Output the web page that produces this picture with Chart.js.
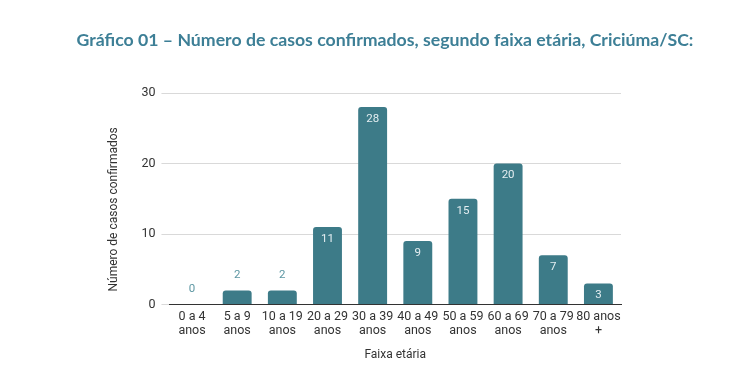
<!DOCTYPE html>
<html><head><meta charset="utf-8">
<script src="https://cdn.jsdelivr.net/npm/chart.js@4/dist/chart.umd.min.js"></script>
<style>html,body{margin:0;padding:0;background:#fff}#wrap{width:729px;height:375px;position:relative}</style>
</head><body><div id="wrap"><canvas id="c" width="729" height="375"></canvas></div>
<script>
const titleText = 'Gráfico 01 – Número de casos confirmados, segundo faixa etária, Criciúma/SC:';
const yTitleText = 'Número de casos confirmados';
const xTitleText = 'Faixa etária';
const categories = [['0 a 4','anos'],['5 a 9','anos'],['10 a 19','anos'],['20 a 29','anos'],['30 a 39','anos'],['40 a 49','anos'],['50 a 59','anos'],['60 a 69','anos'],['70 a 79','anos'],['80 anos','+']];
const casos = [0,2,2,11,28,9,15,20,7,3];
const yTicks = [0,10,20,30];
const barColor = '#3d7b88';

const labelPlugin = {
  id:'vals',
  afterDatasetsDraw(chart){
    const ctx = chart.ctx;
    const meta = chart.getDatasetMeta(0);
    ctx.save();
    ctx.font = '11.5px Roboto';
    ctx.textAlign = 'center';
    ctx.textBaseline = 'middle';
    meta.data.forEach((bar,i)=>{
      const v = casos[i];
      if (v >= 3){ ctx.fillStyle = '#e4eef1'; ctx.fillText(String(v), bar.x, bar.y + 12); }
      else { ctx.fillStyle = '#5d97a3'; ctx.fillText(String(v), bar.x, bar.y - 15); }
    });
    ctx.restore();
  }
};

const titlePlugin = {
  id:'mytitle',
  afterDraw(chart){
    const ctx = chart.ctx;
    ctx.save();
    ctx.font = 'bold 17.7px Lato';
    ctx.fillStyle = '#3d7f96';
    ctx.textAlign = 'center';
    ctx.textBaseline = 'middle';
    ctx.fillText(titleText, 385, 40);
    ctx.restore();
    // y axis title, placed as in the reference (slightly below the plot centre)
    ctx.save();
    ctx.font = '12px Roboto';
    ctx.fillStyle = '#333';
    ctx.textAlign = 'center';
    ctx.textBaseline = 'middle';
    ctx.translate(chart.scales.y.left + 7, chart.scales.y.getPixelForValue(13.5));
    ctx.rotate(-Math.PI/2);
    ctx.fillText(yTitleText, 0, 0);
    ctx.restore();
  }
};

new Chart(document.getElementById('c'), {
  type:'bar',
  data:{labels:categories, datasets:[{data:casos, backgroundColor:barColor, borderRadius:{topLeft:3,topRight:3}, borderSkipped:'bottom', categoryPercentage:0.64, barPercentage:1}]},
  options:{
    responsive:false, animation:false,
    layout:{padding:{left:107,right:108,top:93,bottom:9}},
    plugins:{
      legend:{display:false}, tooltip:{enabled:false}, title:{display:false}
    },
    scales:{
      x:{
        grid:{display:false, drawTicks:false},
        border:{display:true, color:'#333', width:1},
        ticks:{color:'#333', font:{family:'Roboto', size:12.5, lineHeight:1.12}, padding:5, maxRotation:0, autoSkip:false},
        title:{display:true, text:xTitleText, color:'#333', font:{family:'Roboto', size:12}, padding:{top:5}}
      },
      y:{
        min:0, max:30,
        afterBuildTicks(s){ s.ticks = yTicks.map(v=>({value:v})); },
        grid:{color:'#d9d9d9', tickLength:8, drawTicks:true},
        border:{display:false},
        ticks:{color:'#333', font:{family:'Roboto', size:12.5}, padding:6},
        title:{display:true, text:yTitleText, color:'rgba(0,0,0,0)', font:{family:'Roboto', size:12}, padding:{bottom:10}}
      }
    }
  },
  plugins:[labelPlugin, titlePlugin]
});
</script></body></html>
